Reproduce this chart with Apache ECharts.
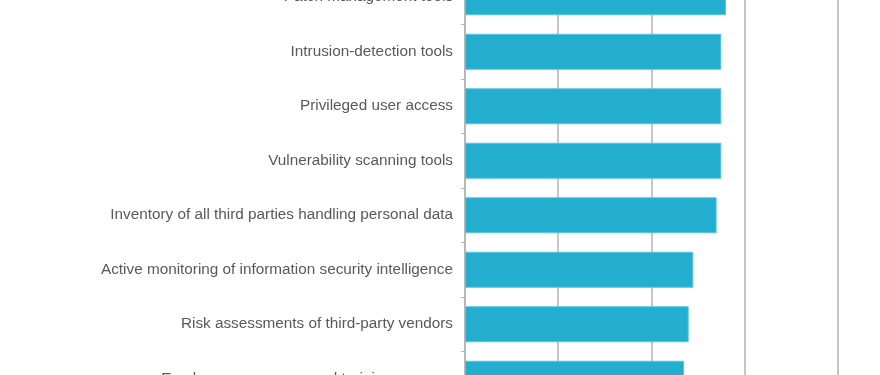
<!DOCTYPE html>
<html><head><meta charset="utf-8">
<script src="https://cdn.jsdelivr.net/npm/echarts@6/dist/echarts.min.js"></script>
<style>html,body{margin:0;padding:0;background:#fff;overflow:hidden;width:880px;height:375px}#c{position:absolute;left:0;top:-30px;width:940px;height:436px}</style>
</head><body><div id="c"></div>
<script>
const categories = [
  "Patch management tools",
  "Intrusion-detection tools",
  "Privileged user access",
  "Vulnerability scanning tools",
  "Inventory of all third parties handling personal data",
  "Active monitoring of information security intelligence",
  "Risk assessments of third-party vendors",
  "Employee awareness and training program"
];
const values = [56, 55, 55, 55, 54, 49, 48, 47];

const chart = echarts.init(document.getElementById('c'), null, {renderer: 'canvas'});
chart.setOption({
  animation: false,
  grid: {left: 465, top: 0, width: 466, height: 436, containLabel: false},
  xAxis: {
    type: 'value', min: 0, max: 100, interval: 20,
    axisLabel: {show: false}, axisTick: {show: false}, axisLine: {show: false},
    splitLine: {show: true, lineStyle: {color: '#b3b3b3', width: 1.5}}
  },
  yAxis: {
    type: 'category', data: categories, inverse: true,
    axisLine: {show: true, lineStyle: {color: '#b3b3b3', width: 1.5}},
    axisTick: {show: true, length: 4, lineStyle: {color: '#b3b3b3'}},
    axisLabel: {color: '#595959', fontFamily: 'Liberation Sans, Arial, sans-serif', fontSize: 15.3, margin: 12}
  },
  series: [{
    type: 'bar', data: values, barWidth: 36,
    itemStyle: {color: '#23aecf', borderColor: '#5cc3dd', borderWidth: 1}
  }]
});
</script></body></html>
